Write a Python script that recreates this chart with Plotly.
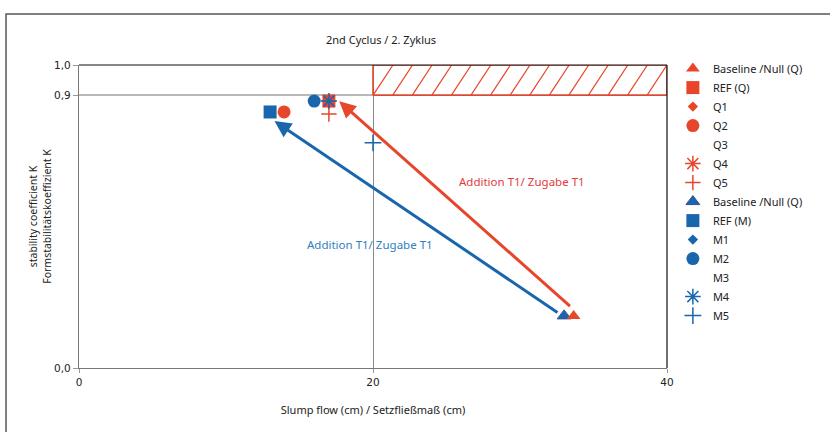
import numpy as np
import plotly.graph_objects as go

# --- data -------------------------------------------------------------
names = ["Baseline /Null (Q)", "REF (Q)", "Q1", "Q2", "Q3", "Q4", "Q5",
         "Baseline /Null (Q)", "REF (M)", "M1", "M2", "M3", "M4", "M5"]
slump_flow = [33.65, 17.0, 17.0, 13.95, None, 17.0, 17.0,
              33.0, 13.0, 13.0, 16.0, None, 17.0, 20.0]
stability_k = [0.172, 0.881, 0.881, 0.845, None, 0.881, 0.838,
               0.172, 0.845, 0.845, 0.881, None, 0.881, 0.743]
symbols = ["triangle-up", "square", "diamond", "circle", "circle", "asterisk-open", "cross-thin-open",
           "triangle-up", "square", "diamond", "circle", "circle", "asterisk-open", "cross-thin-open"]
sizes = [12, 13, 8, 13, 0, 13, 11,
         12, 13, 8, 13, 0, 13, 12]
groups = ["Q"] * 7 + ["M"] * 7

# target zone for slump flow / stability
zone_x = [20, 40]
zone_y = [0.9, 1.0]

# trend arrows (tail -> head)
arrow_tail_x = [33.5, 32.65]
arrow_tail_y = [0.200, 0.180]
arrow_head_x = [17.7, 13.3]
arrow_head_y = [0.880, 0.815]
arrow_labels = ["Addition T1/ Zugabe T1", "Addition T1/ Zugabe T1"]
label_x = [30.15, 19.8]
label_y = [0.614, 0.409]

RED = "#E8462B"
BLUE = "#1A66AD"
RED_TXT = "#E23A3E"
BLUE_TXT = "#2F7FC1"
colors = {"Q": RED, "M": BLUE}

FONT = "Noto Sans"

fig = go.Figure()

# hatched target zone
hx, hy = [], []
n_hatch = 15
slant = 1.36
step = (zone_x[1] - zone_x[0] - slant) / (n_hatch - 1)
for k in range(n_hatch):
    xb = zone_x[0] + k * step
    hx += [xb, xb + slant, None]
    hy += [zone_y[0], zone_y[1], None]
fig.add_trace(go.Scatter(x=hx, y=hy, mode="lines", line=dict(color=RED, width=1.2),
                         hoverinfo="skip", showlegend=False))
fig.add_trace(go.Scatter(x=[zone_x[0], zone_x[1], zone_x[1], zone_x[0], zone_x[0]],
                         y=[zone_y[0], zone_y[0], zone_y[1], zone_y[1], zone_y[0]],
                         mode="lines", line=dict(color=RED, width=1.6),
                         hoverinfo="skip", showlegend=False))

# drawing order: M baseline below Q baseline, M4 asterisk above REF (Q)
draw_order = [7, 0, 1, 2, 3, 4, 5, 6, 8, 9, 10, 11, 12, 13]
for i in draw_order:
    c = colors[groups[i]]
    xs = [slump_flow[i]]
    ys = [stability_k[i]]
    open_sym = symbols[i].endswith("open")
    line_col = "#3A4F93" if i == 7 else c
    fig.add_trace(go.Scatter(
        x=xs, y=ys, name=names[i], mode="markers", legendrank=i + 1,
        marker=dict(symbol=symbols[i], size=sizes[i],
                    color=c if sizes[i] > 0 else "rgba(0,0,0,0)",
                    line=dict(color=line_col if sizes[i] > 0 else "rgba(0,0,0,0)",
                              width=1.5 if open_sym else (1 if i == 7 else 0))),
    ))

# arrows and their labels
arrow_cols = [RED, BLUE]
txt_cols = [RED_TXT, BLUE_TXT]
for j in range(2):
    fig.add_annotation(x=arrow_head_x[j], y=arrow_head_y[j], ax=arrow_tail_x[j], ay=arrow_tail_y[j],
                       xref="x", yref="y", axref="x", ayref="y", text="", showarrow=True,
                       arrowhead=2, arrowsize=1.1, arrowwidth=3, arrowcolor=arrow_cols[j])
    fig.add_annotation(x=label_x[j], y=label_y[j], xref="x", yref="y", text=arrow_labels[j],
                       showarrow=False, font=dict(family=FONT, size=11.5, color=txt_cols[j]))

# chart title
fig.add_annotation(x=0.5136, y=1.085, xref="paper", yref="paper", yanchor="middle",
                   text="2nd Cyclus / 2. Zyklus", showarrow=False,
                   font=dict(family=FONT, size=11, color="#222"))

# plot frame (top/right) and outer frame
fig.add_shape(type="line", xref="paper", yref="paper", x0=0, x1=1, y0=1, y1=1,
              line=dict(color="#111", width=1.2))
fig.add_shape(type="line", xref="paper", yref="paper", x0=1, x1=1, y0=0, y1=1,
              line=dict(color="#111", width=1.2))
fig.add_shape(type="rect", xref="paper", yref="paper", x0=-0.1241, x1=2, y0=-1, y1=1.168,
              line=dict(color="#555", width=1.5), layer="below")

fig.update_layout(
    width=830, height=432,
    margin=dict(l=79, r=163, t=65, b=64),
    paper_bgcolor="white", plot_bgcolor="white",
    separators=",.",
    font=dict(family=FONT, size=11, color="#222"),
    xaxis=dict(range=[0, 40], tickvals=[0, 20, 40], showgrid=True, gridcolor="#8a8a8a", gridwidth=1,
               zeroline=False, showline=True, linecolor="#777", linewidth=1.2,
               ticks="outside", ticklen=4, tickcolor="#999",
               tickfont=dict(family="DejaVu Sans", size=10.5, color="#222"),
               title=dict(text="Slump flow (cm) / Setzfließmaß (cm)", standoff=19,
                          font=dict(family=FONT, size=11))),
    yaxis=dict(range=[0, 1], tickvals=[0, 0.9, 1.0], tickformat=".1f", showgrid=True,
               gridcolor="#b8b8b8", gridwidth=2, zeroline=False, showline=True,
               linecolor="#777", linewidth=1.2, ticks="outside", ticklen=5, tickcolor="#999",
               tickfont=dict(family="DejaVu Sans", size=10.5, color="#222"),
               title=dict(text="stability coefficient K<br>Formstabilitätskoeffizient K", standoff=0,
                          font=dict(family=FONT, size=10.5))),
    legend=dict(x=1.01, xanchor="left", y=1.036, yanchor="top", font=dict(family=FONT, size=11),
                bgcolor="rgba(0,0,0,0)", tracegroupgap=0, maxheight=400),
    showlegend=True,
)

fig.write_html("out.html")
